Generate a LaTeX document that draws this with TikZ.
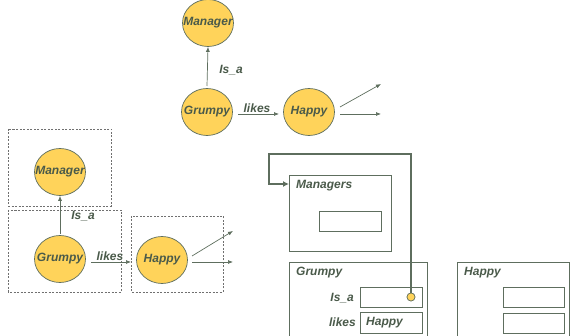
\documentclass[tikz,border=0pt]{standalone}
\usepackage{fontspec}
\setmainfont{Liberation Sans}
\usetikzlibrary{arrows.meta,shapes.geometric}
\definecolor{txt}{HTML}{4A5A4A}
\definecolor{ln}{HTML}{5E6E5E}
\definecolor{yel}{HTML}{FFD35A}
\definecolor{dsh}{HTML}{707070}
\tikzset{
  lbl/.style={font=\fontsize{12}{14}\selectfont\bfseries\itshape, text=txt, inner sep=0pt},
  ell/.style={ellipse, draw=ln, fill=yel, line width=0.7pt, minimum width=51pt, minimum height=47pt, inner sep=0pt, lbl},
  arr/.style={draw=ln, line width=0.7pt, -{Latex[length=5pt,width=4pt]}},
  dbox/.style={draw=dsh, dashed, line width=0.7pt, dash pattern=on 2pt off 1.5pt},
  rbox/.style={draw=ln, line width=0.8pt},
}
\newcommand{\zw}[1]{\makebox[0pt]{#1}}
\begin{document}
\begin{tikzpicture}[x=1pt,y=-1pt]
\useasboundingbox (0,0) rectangle (571,336);
% top diagram
\node[ell] (mtop) at (208,23) {\zw{Manager}};
\node[ell] (gtop) at (207,112) {\zw{Grumpy}};
\node[ell] (htop) at (309,112) {\zw{Happy}};
\draw[arr] (207,86) -- (mtop.south);
\node[lbl] (isa1) at (231,70) {Is\_a};
\draw[arr] (238,114) -- (279,114);
\node[lbl] (likes1) at (257,108) {likes};
\coordinate (t1) at (381,84);
\coordinate (t2) at (381,114);
\draw[arr] (340,107) -- (t1);
\draw[arr] (340,114) -- (t2);
% bottom left diagram
\draw[dbox] (8,129) rectangle (111,206);
\draw[dbox] (8,210) rectangle (121,292);
\draw[dbox] (131,216) rectangle (223,292);
\node[ell] (mbl) at (60,172) {\zw{Manager}};
\node[ell] (gbl) at (60,259) {\zw{Grumpy}};
\node[ell] (hbl) at (162,260) {\zw{Happy}};
\draw[arr] (60,234) -- (mbl.south);
\node[lbl] (isa2) at (83,216) {Is\_a};
\draw[arr] (91,262) -- (131,262);
\node[lbl] (likes2) at (110,256) {likes};
\coordinate (b1) at (233,231);
\coordinate (b2) at (233,262);
\draw[arr] (192,256) -- (b1);
\draw[arr] (192,262) -- (b2);
% bottom right
\draw[rbox] (289,175) rectangle (391,251);
\node[lbl, anchor=west] (mgrs) at (296,186) {Managers};
\draw[rbox] (319,211) rectangle (381,231);
\draw[rbox] (289,262) rectangle (427,340);
\node[lbl, anchor=west] (grb) at (296,273) {Grumpy};
\node[lbl, anchor=east] (isa3) at (354,298) {Is\_a};
\draw[rbox] (360,287) rectangle (422,307);
\node[lbl, anchor=east] (likes3) at (356,322) {likes};
\draw[rbox] (360,312) rectangle (422,333);
\node[lbl, anchor=west] (hin) at (366,322.5) {Happy};
\draw[rbox] (457,262) rectangle (569,340);
\node[lbl, anchor=west] (hb) at (464,273) {Happy};
\draw[rbox] (503,287) rectangle (564,307);
\draw[rbox] (503,313) rectangle (564,333);
\node[circle, fill=yel, draw=ln, line width=0.6pt, minimum size=8pt, inner sep=0pt] (dot) at (411,297) {};
\coordinate (mgin) at (289,184);
\draw[draw=ln, line width=2.2pt, -{Latex[length=6pt,width=6pt]}] (dot.center) -- (411,154) -- (269,154) -- (269,184) -- (mgin);
\node[circle, fill=yel, draw=ln, line width=0.6pt, minimum size=8pt, inner sep=0pt] at (411,297) {};
\end{tikzpicture}
\end{document}
